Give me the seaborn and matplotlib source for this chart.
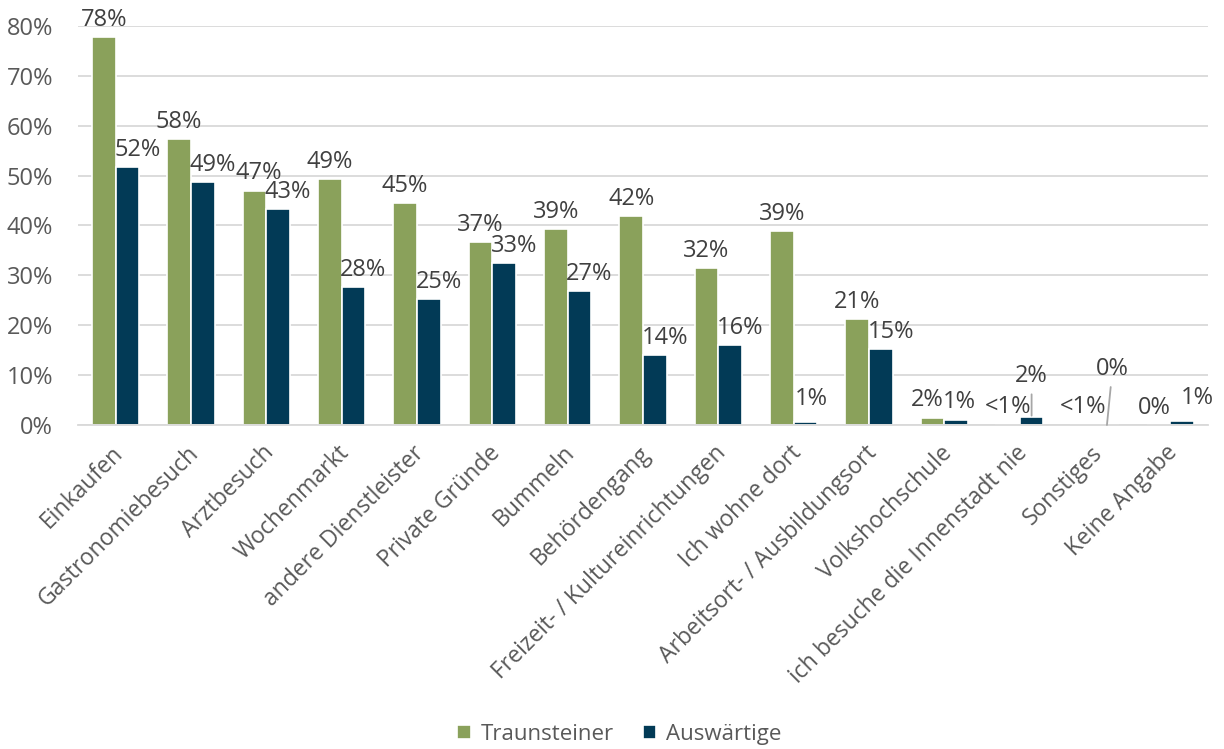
import matplotlib
matplotlib.use("Agg")
import matplotlib.pyplot as plt
import matplotlib.transforms as mtransforms
import seaborn as sns
import pandas as pd

categories = [
    "Einkaufen", "Gastronomiebesuch", "Arztbesuch", "Wochenmarkt",
    "andere Dienstleister", "Private Gründe", "Bummeln", "Behördengang",
    "Freizeit- / Kultureinrichtungen", "Ich wohne dort",
    "Arbeitsort- / Ausbildungsort", "Volkshochschule",
    "ich besuche die Innenstadt nie", "Sonstiges", "Keine Angabe",
]
series_names = ["Traunsteiner", "Auswärtige"]
traunsteiner = [77.8, 57.3, 47.0, 49.3, 44.5, 36.7, 39.3, 41.9, 31.5, 38.8, 21.2, 1.5, 0.1, 0.1, 0.0]
auswaertige = [51.7, 48.7, 43.3, 27.6, 25.2, 32.5, 26.8, 14.1, 16.0, 0.6, 15.3, 0.9, 1.6, 0.0, 0.8]
labels_traunsteiner = ["78%", "58%", "47%", "49%", "45%", "37%", "39%", "42%", "32%", "39%", "21%", "2%", "<1%", "<1%", "0%"]
labels_auswaertige = ["52%", "49%", "43%", "28%", "25%", "33%", "27%", "14%", "16%", "1%", "15%", "1%", "2%", "0%", "1%"]
y_ticks = [0, 10, 20, 30, 40, 50, 60, 70, 80]

colors = ["#8AA15B", "#023A56"]
text_dark = "#404040"
text_grey = "#595959"
label_size = 17

df = pd.DataFrame({
    "Kategorie": categories * 2,
    "Gruppe": [series_names[0]] * len(categories) + [series_names[1]] * len(categories),
    "Wert": traunsteiner + auswaertige,
})

sns.set_style("white")
plt.rcParams["font.family"] = ["Open Sans", "DejaVu Sans"]

fig = plt.figure(figsize=(12.24, 7.49), dpi=100)
ax = fig.add_axes([0.0637, 0.4326, 0.9233, 0.5327])

sns.barplot(data=df, x="Kategorie", y="Wert", hue="Gruppe", order=categories,
            hue_order=series_names, palette=colors, width=0.63, saturation=1,
            edgecolor="white", linewidth=1.2, ax=ax, legend=True)

ax.set_ylim(0, 80)
ax.set_xlim(-0.5, len(categories) - 0.5)
ax.set_yticks(y_ticks)
ax.set_yticklabels([f"{t}%" for t in y_ticks], fontsize=label_size, color=text_grey)
ax.tick_params(axis="y", length=0, pad=18)
ax.tick_params(axis="x", length=0, pad=9)
ax.yaxis.grid(True, color="#D9D9D9", linewidth=1.3)
ax.set_axisbelow(True)
for side in ["top", "right", "left"]:
    ax.spines[side].set_visible(False)
ax.spines["bottom"].set_color("#D9D9D9")
ax.spines["bottom"].set_linewidth(1.3)
ax.set_xlabel("")
ax.set_ylabel("")

ax.set_xticks(range(len(categories)))
ax.set_xticklabels(categories, rotation=45, ha="right", va="center",
                   rotation_mode="anchor", fontsize=16.5, color=text_grey)
shift = mtransforms.ScaledTranslation(4 / 100, -12 / 100, fig.dpi_scale_trans)
for lbl in ax.get_xticklabels():
    lbl.set_transform(lbl.get_transform() + shift)

# value labels above every bar
bars = [p for p in ax.patches if p.get_width() > 0][:2 * len(categories)]
green_bars = bars[:len(categories)]
blue_bars = bars[len(categories):]


def bar_center(p):
    return p.get_x() + p.get_width() / 2


green_dx = {"Arztbesuch": 3, "Volkshochschule": -4, "Keine Angabe": -3}
for i, p in enumerate(green_bars):
    dx = green_dx.get(categories[i], 0)
    ax.annotate(labels_traunsteiner[i], (bar_center(p), traunsteiner[i]), xytext=(dx, 8),
                textcoords="offset points", ha="center", va="baseline",
                fontsize=label_size, color=text_dark)

leader = dict(arrowstyle="-", color="#A6A6A6", lw=1.3)
blue_offsets = {"Volkshochschule": (2, 9), "Keine Angabe": (11, 12), "Ich wohne dort": (4, 12)}
for i, p in enumerate(blue_bars):
    x = bar_center(p)
    y = auswaertige[i]
    cat = categories[i]
    if cat == "ich besuche die Innenstadt nie":
        ax.annotate(labels_auswaertige[i], (x, y), xytext=(0, 25), textcoords="offset points",
                    ha="center", va="baseline", fontsize=label_size, color=text_dark,
                    arrowprops=dict(leader, shrinkA=2, shrinkB=1))
    elif cat == "Sonstiges":
        ax.annotate(labels_auswaertige[i], (x, y), xytext=(4, 36), textcoords="offset points",
                    ha="center", va="baseline", fontsize=label_size, color=text_dark,
                    arrowprops=dict(leader, shrinkA=2, shrinkB=0))
    else:
        dx, dy = blue_offsets.get(cat, (7, 8))
        ax.annotate(labels_auswaertige[i], (x, y), xytext=(dx, dy), textcoords="offset points",
                    ha="center", va="baseline", fontsize=label_size, color=text_dark)

handles, lbls = ax.get_legend_handles_labels()
ax.get_legend().remove()
fig.legend(handles, lbls, loc="center", bbox_to_anchor=(0.506, 0.02), ncol=2, frameon=False,
           fontsize=16, labelcolor=text_grey, handlelength=0.6, handleheight=0.6,
           handletextpad=0.45, columnspacing=1.3)

fig.savefig("out.png", dpi=100)
